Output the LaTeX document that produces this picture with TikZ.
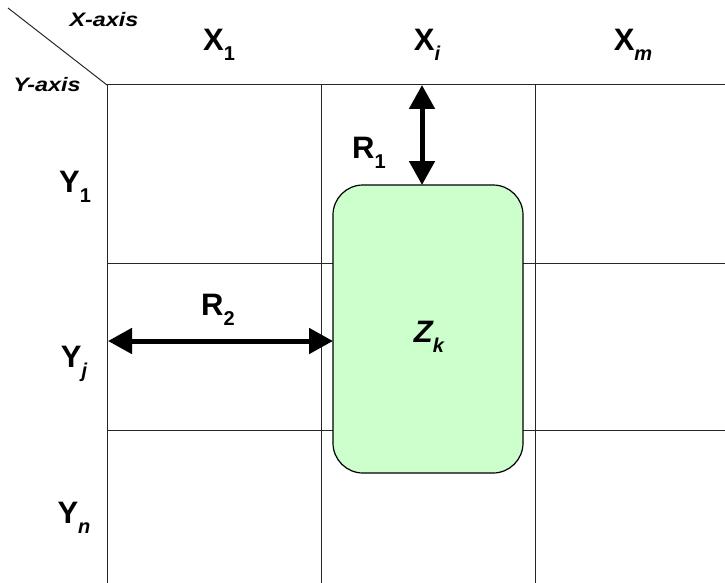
\documentclass[tikz,border=0pt]{standalone}
\usepackage{fontspec}
\setmainfont{Liberation Sans}
\usetikzlibrary{arrows.meta}
\definecolor{boxgreen}{HTML}{CCFFCC}
\newcommand{\lsub}[1]{\raisebox{-10pt}{\fontsize{20}{20}\selectfont\bfseries #1}}
\tikzset{
  gridline/.style={line width=1pt, black!85},
  bigtxt/.style={font=\fontsize{31}{35}\selectfont\bfseries, inner sep=0pt, anchor=base},
  axistxt/.style={font=\fontsize{19.5}{22}\selectfont\bfseries\itshape, inner sep=0pt, anchor=base},
  dimarrow/.style={line width=5pt, {Triangle[length=24pt,width=25pt]}-{Triangle[length=24pt,width=25pt]}},
  zonebox/.style={draw, line width=1.2pt, fill=boxgreen, rounded corners=30pt}
}
\begin{document}
\begin{tikzpicture}[x=1pt,y=-1pt]
\useasboundingbox (0,0) rectangle (725,583);
% grid
\coordinate (c0) at (8,8);
\coordinate (o) at (107,85);
\coordinate (tr) at (725,85);
\coordinate (bl) at (107,583);
\draw[gridline] (c0) -- (o);
\draw[gridline] (o) -- (tr);
\draw[gridline] (o) -- (bl);
\draw[gridline] (321,85) -- (321,583);
\draw[gridline] (535,85) -- (535,583);
\draw[gridline] (107,263) -- (725,263);
\draw[gridline] (107,430) -- (725,430);
% zone box
\draw[zonebox] (333,185) rectangle (523,473);
\coordinate (ztop) at (422,185);
\coordinate (zleft) at (333,341);
\coordinate (gtop) at (422,85);
\coordinate (gleft) at (108,341);
\node[bigtxt] (zk) at (429,342) {\itshape Z\lsub{\itshape k}};
% arrows
\draw[dimarrow] (gtop) -- (ztop);
\draw[dimarrow] (gleft) -- (zleft);
\node[bigtxt] (r1) at (369,158) {R\lsub{1}};
\node[bigtxt] (r2) at (218,315) {R\lsub{2}};
% axis labels
\node[axistxt] (xaxis) at (104,27) {\scalebox{1.2}[1]{X-axis}};
\node[axistxt] (yaxis) at (47,92) {\scalebox{1.2}[1]{Y-axis}};
\node[bigtxt] (x1) at (219,51) {X\lsub{1}};
\node[bigtxt] (xi) at (427,51) {X\lsub{\itshape i}};
\node[bigtxt] (xm) at (633,51) {X\lsub{\itshape m}};
\node[bigtxt] (y1) at (75,192) {Y\lsub{1}};
\node[bigtxt] (yj) at (74,367) {Y\lsub{\itshape j}};
\node[bigtxt] (yn) at (74,523) {Y\lsub{\itshape n}};
\end{tikzpicture}
\end{document}
